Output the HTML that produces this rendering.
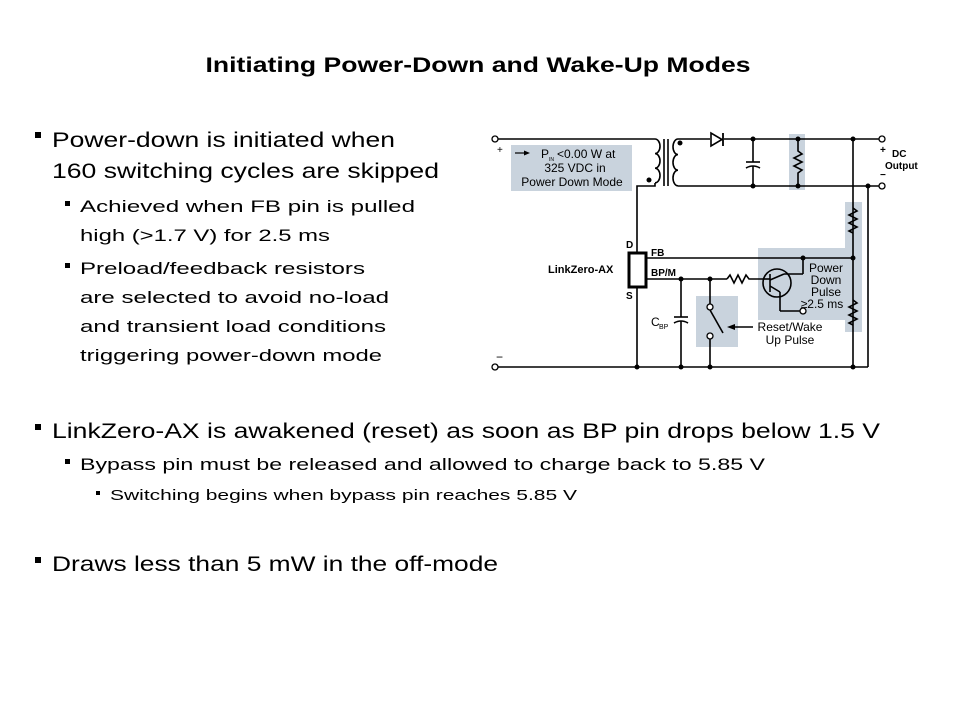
<!DOCTYPE html>
<html><head><meta charset="utf-8"><style>
html,body{margin:0;padding:0;background:#fff}
svg{display:block}
text{font-family:"Liberation Sans",Arial,sans-serif;fill:#000}
</style></head><body>
<svg width="960" height="720" viewBox="0 0 960 720" xmlns="http://www.w3.org/2000/svg">
<text x="478" y="72" text-anchor="middle" font-size="21" font-weight="bold" textLength="545" lengthAdjust="spacingAndGlyphs">Initiating Power-Down and Wake-Up Modes</text>

<rect x="35" y="132" width="6" height="6"/>
<text x="52" y="147" font-size="21" textLength="343" lengthAdjust="spacingAndGlyphs">Power-down is initiated when</text>
<text x="52" y="178" font-size="21" textLength="387" lengthAdjust="spacingAndGlyphs">160 switching cycles are skipped</text>
<rect x="65" y="201" width="5" height="5"/>
<text x="80" y="212" font-size="17" textLength="335" lengthAdjust="spacingAndGlyphs">Achieved when FB pin is pulled</text>
<text x="80" y="241" font-size="17" textLength="250" lengthAdjust="spacingAndGlyphs">high (&gt;1.7 V) for 2.5 ms</text>
<rect x="65" y="263" width="5" height="5"/>
<text x="80" y="274" font-size="17" textLength="285" lengthAdjust="spacingAndGlyphs">Preload/feedback resistors</text>
<text x="80" y="303" font-size="17" textLength="309" lengthAdjust="spacingAndGlyphs">are selected to avoid no-load</text>
<text x="80" y="332" font-size="17" textLength="306" lengthAdjust="spacingAndGlyphs">and transient load conditions</text>
<text x="80" y="361" font-size="17" textLength="302" lengthAdjust="spacingAndGlyphs">triggering power-down mode</text>

<rect x="35" y="424" width="6" height="6"/>
<text x="52" y="438" font-size="21" textLength="828" lengthAdjust="spacingAndGlyphs">LinkZero-AX is awakened (reset) as soon as BP pin drops below 1.5 V</text>
<rect x="65" y="459" width="5" height="5"/>
<text x="80" y="470" font-size="17" textLength="685" lengthAdjust="spacingAndGlyphs">Bypass pin must be released and allowed to charge back to 5.85 V</text>
<rect x="96" y="491" width="4" height="4"/>
<text x="110" y="500" font-size="15" textLength="467" lengthAdjust="spacingAndGlyphs">Switching begins when bypass pin reaches 5.85 V</text>
<rect x="35" y="557" width="6" height="6"/>
<text x="52" y="571" font-size="21" textLength="446" lengthAdjust="spacingAndGlyphs">Draws less than 5 mW in the off-mode</text>

<g fill="#c9d3dd">
<rect x="511" y="145" width="121" height="46"/>
<rect x="789" y="134" width="16" height="56"/>
<rect x="845" y="202" width="17" height="130"/>
<rect x="758" y="248" width="89" height="72"/>
<rect x="696" y="296" width="42" height="51"/>
</g>

<g stroke="#000" stroke-width="1.6" fill="none">
<line x1="498" y1="139" x2="655" y2="139"/>
<path d="M655 139 a5 7.3 0 0 1 0 14.6 a5 7.3 0 0 1 0 14.6 a5 7.3 0 0 1 0 14.6"/>
<path d="M655 183 L655 186 L637 186 L637 367"/>
<line x1="664" y1="139" x2="664" y2="186"/>
<line x1="668" y1="139" x2="668" y2="186"/>
<path d="M678 139 a5 7.8 0 0 0 0 15.6 a5 7.8 0 0 0 0 15.6 a5 7.8 0 0 0 0 15.6"/>
<line x1="678" y1="139" x2="710" y2="139"/>
<line x1="724" y1="139" x2="880" y2="139"/>
<line x1="678" y1="186" x2="880" y2="186"/>
<line x1="753" y1="139" x2="753" y2="162"/>
<line x1="746" y1="162" x2="760" y2="162"/>
<path d="M746 168 q7 -4 14 0"/>
<line x1="753" y1="166" x2="753" y2="186"/>
<path d="M798 139 L798 151 L802 154 L794 158 L802 162 L794 166 L802 170 L798 173 L798 186"/>
<line x1="853" y1="139" x2="853" y2="367"/>
<line x1="868" y1="186" x2="868" y2="367"/>
<line x1="498" y1="367" x2="868" y2="367"/>
<line x1="646" y1="258" x2="853" y2="258"/>
<line x1="646" y1="279" x2="727" y2="279"/>
<path d="M727 279 L730 275 L734 283 L738 275 L742 283 L746 275 L749 279 L762 279"/>
<circle cx="777" cy="283" r="14"/>
<line x1="770" y1="274" x2="770" y2="292"/>
<line x1="762" y1="279" x2="770" y2="279"/>
<line x1="770" y1="280" x2="784" y2="274"/>
<line x1="784" y1="274" x2="803" y2="274"/>
<line x1="803" y1="274" x2="803" y2="258"/>
<line x1="770" y1="286" x2="780" y2="292"/>
<line x1="780" y1="292" x2="780" y2="311"/>
<line x1="780" y1="311" x2="800" y2="311"/>
<path d="M853 208 L857 211 L849 215 L857 219 L849 223 L857 227 L849 231 L853 233"/>
<path d="M853 300 L857 303 L849 307 L857 311 L849 315 L857 319 L849 323 L853 325"/>
<line x1="681" y1="279" x2="681" y2="317"/>
<line x1="674" y1="317" x2="688" y2="317"/>
<path d="M674 323 q7 -4 14 0"/>
<line x1="681" y1="321" x2="681" y2="367"/>
<line x1="710" y1="279" x2="710" y2="304"/>
<line x1="710" y1="310" x2="723" y2="333"/>
<line x1="710" y1="339" x2="710" y2="367"/>
<line x1="753" y1="327" x2="732" y2="327"/>
</g>
<polygon points="727,327 735,324 735,330" fill="#000"/>
<rect x="629" y="253" width="17" height="34" fill="#fff" stroke="#000" stroke-width="3"/>
<polygon points="711,133 711,146 722,139.5" fill="#fff" stroke="#000" stroke-width="1.6"/>
<line x1="723" y1="133" x2="723" y2="146" stroke="#000" stroke-width="1.8"/>
<g fill="#fff" stroke="#000" stroke-width="1.3">
<circle cx="495" cy="139" r="3"/>
<circle cx="495" cy="367" r="3"/>
<circle cx="882" cy="139" r="3"/>
<circle cx="882" cy="186" r="3"/>
<circle cx="710" cy="307" r="3"/>
<circle cx="710" cy="336" r="3"/>
<circle cx="803" cy="311" r="3"/>
</g>
<g fill="#000">
<circle cx="680" cy="143" r="2.5"/>
<circle cx="649" cy="180" r="2.5"/>
<circle cx="753" cy="139" r="2.5"/><circle cx="753" cy="186" r="2.5"/>
<circle cx="798" cy="139" r="2.5"/><circle cx="798" cy="186" r="2.5"/>
<circle cx="853" cy="139" r="2.5"/><circle cx="868" cy="186" r="2.5"/>
<circle cx="853" cy="258" r="2.5"/><circle cx="803" cy="258" r="2.5"/>
<circle cx="681" cy="279" r="2.5"/><circle cx="710" cy="279" r="2.5"/>
<circle cx="637" cy="367" r="2.5"/><circle cx="681" cy="367" r="2.5"/>
<circle cx="710" cy="367" r="2.5"/><circle cx="853" cy="367" r="2.5"/>
</g>
<line x1="515" y1="153" x2="526" y2="153" stroke="#000" stroke-width="1.2"/>
<polygon points="530,153 524,150.5 524,155.5" fill="#000"/>
<g font-size="12" fill="#333">
<text x="497" y="153" font-size="10">+</text>
<text x="496" y="361" font-size="12">−</text>
<text x="541" y="158">P</text><text x="549" y="161" font-size="5">IN</text>
<text x="557" y="158">&lt;0.00 W at</text>
<text x="575" y="172" text-anchor="middle">325 VDC in</text>
<text x="572" y="186" text-anchor="middle">Power Down Mode</text>
<text x="826" y="272" text-anchor="middle">Power</text>
<text x="826" y="284" text-anchor="middle">Down</text>
<text x="826" y="296" text-anchor="middle">Pulse</text>
<text x="822" y="308" text-anchor="middle">≥2.5 ms</text>
<text x="790" y="331" text-anchor="middle">Reset/Wake</text>
<text x="790" y="344" text-anchor="middle">Up Pulse</text>
<text x="651" y="326">C</text><text x="659" y="329" font-size="7">BP</text>
</g>
<g font-size="10" font-weight="bold">
<text x="880" y="153" font-size="10">+</text>
<text x="880" y="178" font-size="10">−</text>
<text x="892" y="157">DC</text>
<text x="885" y="169">Output</text>
<text x="626" y="248">D</text>
<text x="626" y="299">S</text>
<text x="651" y="256">FB</text>
<text x="651" y="276">BP/M</text>
<text x="548" y="273" font-size="11">LinkZero-AX</text>
</g>
</svg>
</body></html>
